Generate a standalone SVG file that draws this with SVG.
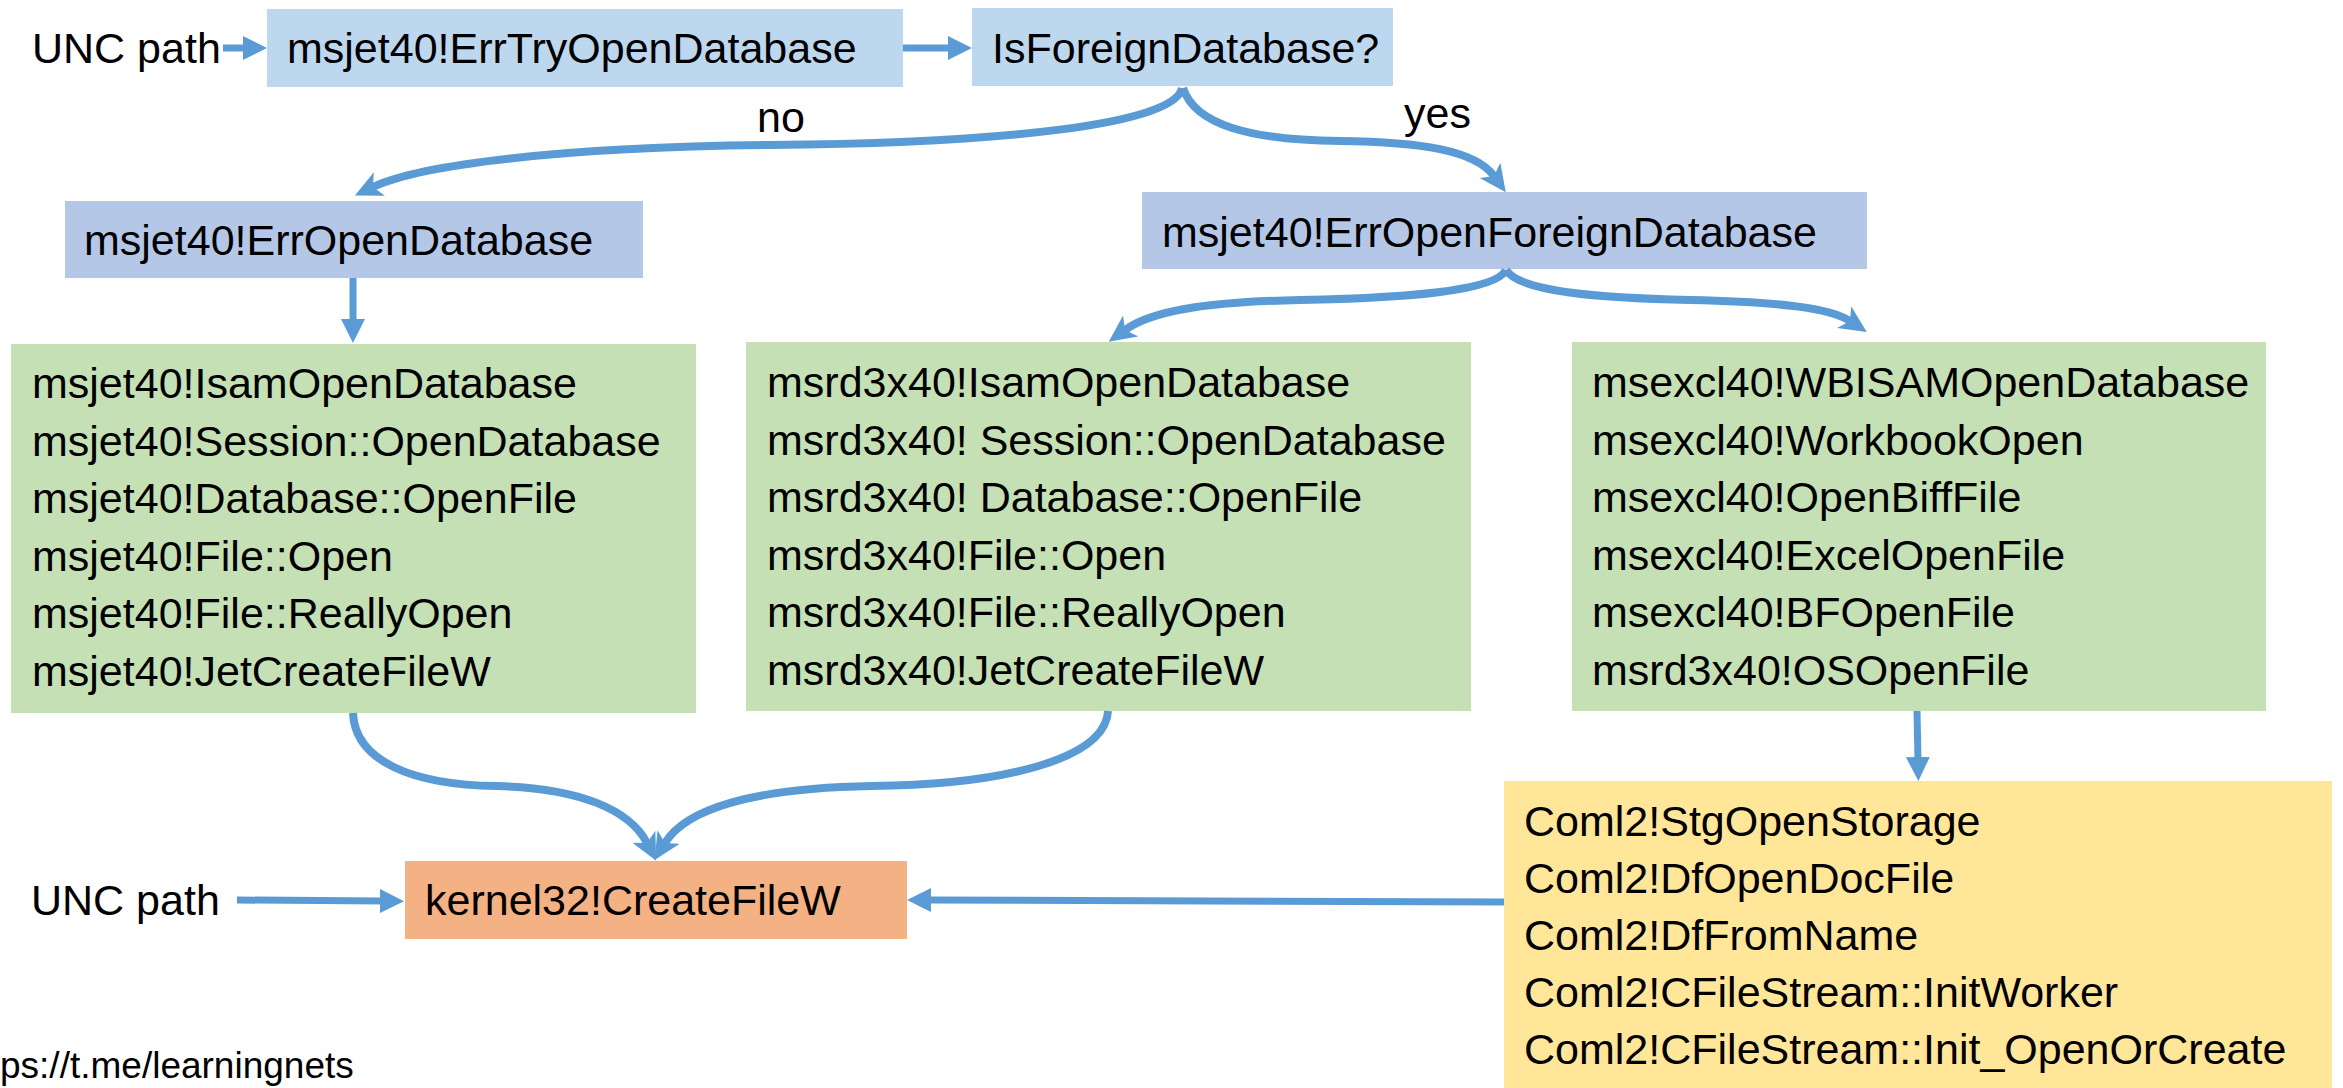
<svg xmlns="http://www.w3.org/2000/svg" width="2343" height="1088" viewBox="0 0 2343 1088">
<style>
text{font-family:"Liberation Sans",Arial,sans-serif;font-size:43px;fill:#000}
.c{fill:none;stroke:#5B9BD5;stroke-width:8}
.s{fill:none;stroke:#5B9BD5;stroke-width:7}
.b1{fill:#BDD7EE}.b2{fill:#B4C7E7}.g{fill:#C5E0B4}.o{fill:#F4B183}.y{fill:#FFE699}
</style>
<defs>
<marker id="tri" markerUnits="userSpaceOnUse" markerWidth="24" markerHeight="24" refX="4" refY="12" orient="auto" viewBox="0 0 24 24"><path d="M0,0 L24,12 L0,24 z" fill="#5B9BD5"/></marker>
<marker id="notch" markerUnits="userSpaceOnUse" markerWidth="27" markerHeight="26" refX="7" refY="13" orient="auto" viewBox="0 0 27 26"><path d="M0,0 L27,13 L0,26 L7,13 z" fill="#5B9BD5"/></marker>
</defs>
<g id="unc-top"><text x="32" y="63">UNC path</text></g>
<g id="n-errtry"><rect class="b1" x="267" y="9" width="636" height="78"/><text x="287" y="63">msjet40!ErrTryOpenDatabase</text></g>
<g id="n-isforeign"><rect class="b1" x="972" y="8" width="421" height="78"/><text x="992" y="63">IsForeignDatabase?</text></g>
<g id="n-erropen"><rect class="b2" x="65" y="201" width="578" height="77"/><text x="84" y="255">msjet40!ErrOpenDatabase</text></g>
<g id="n-erropenforeign"><rect class="b2" x="1142" y="192" width="725" height="77"/><text x="1162" y="247">msjet40!ErrOpenForeignDatabase</text></g>
<g id="n-msjet"><rect class="g" x="11" y="344" width="685" height="369"/>
<text x="32" y="398">msjet40!IsamOpenDatabase</text>
<text x="32" y="456">msjet40!Session::OpenDatabase</text>
<text x="32" y="513">msjet40!Database::OpenFile</text>
<text x="32" y="571">msjet40!File::Open</text>
<text x="32" y="628">msjet40!File::ReallyOpen</text>
<text x="32" y="686">msjet40!JetCreateFileW</text></g>
<g id="n-msrd"><rect class="g" x="746" y="342" width="725" height="369"/>
<text x="767" y="397">msrd3x40!IsamOpenDatabase</text>
<text x="767" y="455">msrd3x40! Session::OpenDatabase</text>
<text x="767" y="512">msrd3x40! Database::OpenFile</text>
<text x="767" y="570">msrd3x40!File::Open</text>
<text x="767" y="627">msrd3x40!File::ReallyOpen</text>
<text x="767" y="685">msrd3x40!JetCreateFileW</text></g>
<g id="n-msexcl"><rect class="g" x="1572" y="342" width="694" height="369"/>
<text x="1592" y="397">msexcl40!WBISAMOpenDatabase</text>
<text x="1592" y="455">msexcl40!WorkbookOpen</text>
<text x="1592" y="512">msexcl40!OpenBiffFile</text>
<text x="1592" y="570">msexcl40!ExcelOpenFile</text>
<text x="1592" y="627">msexcl40!BFOpenFile</text>
<text x="1592" y="685">msrd3x40!OSOpenFile</text></g>
<g id="n-coml"><rect class="y" x="1504" y="781" width="828" height="307"/>
<text x="1524" y="836">Coml2!StgOpenStorage</text>
<text x="1524" y="893">Coml2!DfOpenDocFile</text>
<text x="1524" y="950">Coml2!DfFromName</text>
<text x="1524" y="1007">Coml2!CFileStream::InitWorker</text>
<text x="1524" y="1064">Coml2!CFileStream::Init_OpenOrCreate</text></g>
<g id="n-kernel"><rect class="o" x="405" y="861" width="502" height="78"/><text x="425" y="915">kernel32!CreateFileW</text></g>
<g id="unc-bottom"><text x="31" y="915">UNC path</text></g>
<g id="footer"><text x="0" y="1078" style="font-size:37px">ps://t.me/learningnets</text></g>
<g id="connectors">
<path class="s" d="M223,48 L247,48" marker-end="url(#tri)"/>
<path class="s" d="M903,48 L952,48" marker-end="url(#tri)"/>
<path class="c" d="M1182,88 C1175,125 1000,143 770,145 C560,147 420,165 373,187" marker-end="url(#notch)"/>
<path class="c" d="M1183,88 C1195,125 1250,140 1340,141 C1420,142 1475,150 1494,176" marker-end="url(#notch)"/>
<path class="s" d="M353,278 L353,323" marker-end="url(#tri)"/>
<path class="c" d="M1506,270 C1495,292 1400,298 1300,300 C1200,302 1150,312 1125,330" marker-end="url(#notch)"/>
<path class="c" d="M1506,270 C1520,292 1600,298 1690,300 C1780,302 1830,308 1850,321" marker-end="url(#notch)"/>
<path class="s" d="M1917,711 L1918,761" marker-end="url(#tri)"/>
<path class="c" d="M353,713 C355,760 410,785 497,786 C580,788 630,810 647,843" marker-end="url(#notch)"/>
<path class="c" d="M1108,711 C1105,760 1000,785 872,786 C750,788 685,810 665,843" marker-end="url(#notch)"/>
<path class="s" d="M237,900 L384,901" marker-end="url(#tri)"/>
<path class="s" d="M1504,902 L927,900" marker-end="url(#tri)"/>
<text x="757" y="132">no</text>
<text x="1404" y="128">yes</text>
</g>
</svg>
